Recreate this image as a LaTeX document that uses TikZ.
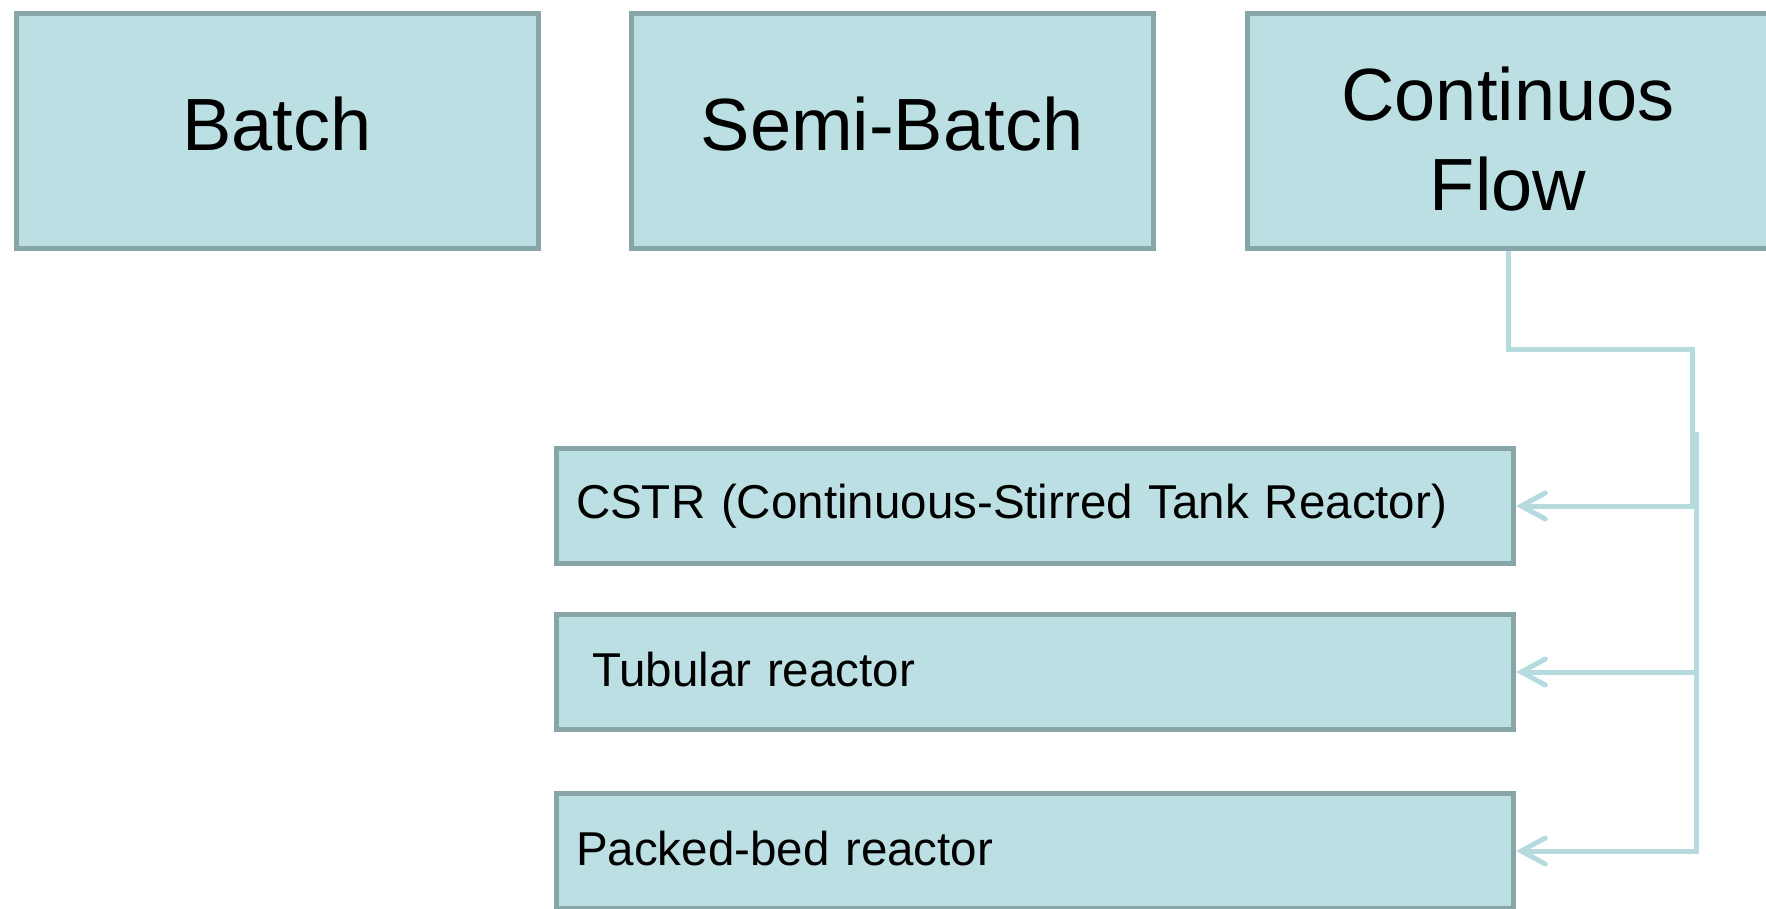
\documentclass[tikz,border=0pt]{standalone}
\usepackage{fontspec}
\setmainfont{Liberation Sans}
\usetikzlibrary{arrows.meta}
\definecolor{boxfill}{HTML}{BBDFE2}
\definecolor{boxline}{HTML}{88A5A8}
\definecolor{conn}{HTML}{B5DBDF}
\begin{document}
\begin{tikzpicture}[x=1pt,y=-1pt,
  box/.style={draw=boxline,fill=boxfill,line width=5pt,rectangle,inner sep=0pt},
  topbox/.style={box,minimum width=522pt,minimum height=235pt,font=\fontsize{74}{90}\selectfont,align=center},
  lowbox/.style={box,minimum width=957pt,minimum height=115pt,font=\fontsize{47.5}{57}\selectfont,text width=918pt,align=left},
  link/.style={draw=conn,line width=5pt},
  arr/.style={link,-{Straight Barb[length=24pt,width=26pt,line cap=round]}}]
\useasboundingbox (0,0) rectangle (1766,908);
\clip (0,0) rectangle (1766,908);
\node[topbox] (batch) at (277,131) {Batch\rule[-14pt]{0pt}{14pt}};
\node[topbox] (semi) at (892,131) {Semi-Batch\rule[-14pt]{0pt}{14pt}};
\node[topbox] (cf) at (1508,131) {\rule{0pt}{70pt}Continuos\\Flow};
\node[lowbox] (cstr) at (1035,506) {CSTR (Continuous-Stirred Tank Reactor)};
\node[lowbox] (tub) at (1035,672) {\hspace*{16pt}Tubular reactor\rule[-6pt]{0pt}{6pt}};
\node[lowbox] (pack) at (1035,851) {Packed-bed reactor\rule[-6pt]{0pt}{6pt}};
\coordinate (j1) at (1692,349);
\coordinate (j2) at (1696,432);
\draw[arr] (cf.south) |- (j1) |- (cstr.east);
\draw[arr] (j2) |- (tub.east);
\draw[arr] (j2) |- (pack.east);
\end{tikzpicture}
\end{document}
